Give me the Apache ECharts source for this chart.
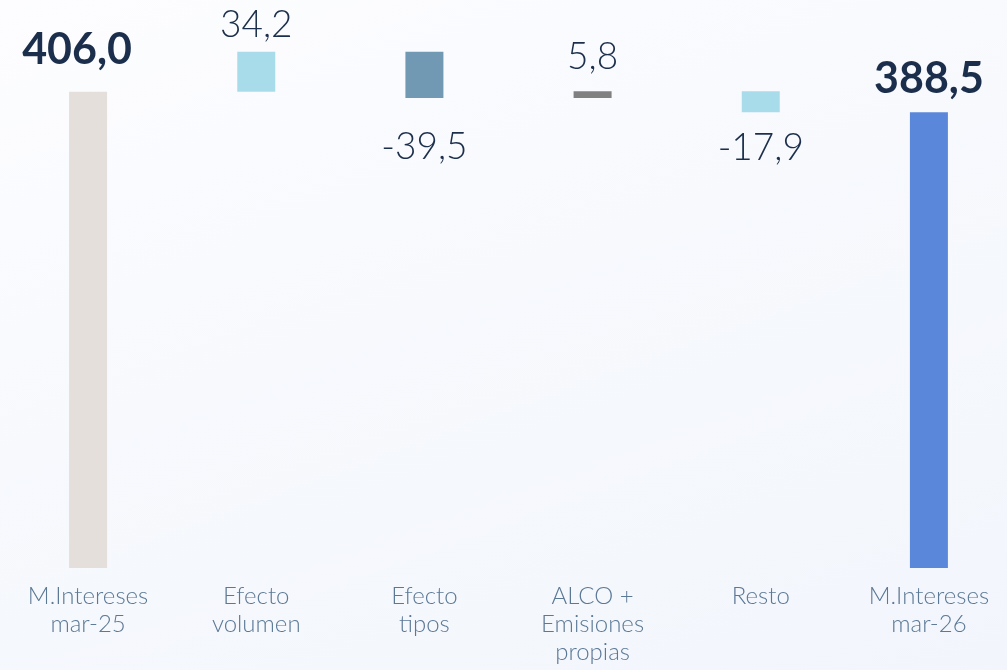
<!DOCTYPE html>
<html lang="es">
<head>
    <meta charset="UTF-8">
    <title>Margen de intereses</title>
    <script src="https://cdn.jsdelivr.net/npm/echarts@6/dist/echarts.min.js"></script>
    <style>
        html, body {
            margin: 0;
            padding: 0;
            width: 1007px;
            height: 670px;
            overflow: hidden;
            background: linear-gradient(160deg, #fdfdff 0%, #f7f9fd 45%, #f2f6fc 100%);
        }
        /* un poco más ancho que la ventana: el último grupo queda cortado como en el original */
        #chart {
            width: 1013px;
            height: 670px;
        }
    </style>
</head>
<body>
    <div id="chart"></div>
    <script>
        // datos
        var categories = ['M.Intereses\nmar-25', 'Efecto\nvolumen', 'Efecto\ntipos', 'ALCO +\nEmisiones\npropias', 'Resto', 'M.Intereses\nmar-26'];
        var values = [406.0, 34.2, -39.5, 5.8, -17.9, 388.5];
        var isTotal = [true, false, false, false, false, true];
        var barColors = ['#e5dfdc', '#a9dcea', '#7199b4', '#808080', '#a9dcea', '#5b87db'];

        // base invisible + altura visible (cascada)
        var baseData = [];
        var barData = [];
        var running = 0;
        var labelPos = [
            { position: 'top', distance: 20, offset: [-11, 0] },
            { position: 'top', distance: 8 },
            { position: 'bottom', distance: 31 },
            { position: 'top', distance: 16 },
            { position: 'bottom', distance: 17 },
            { position: 'top', distance: 12 }
        ];

        for (var i = 0; i < values.length; i++) {
            var v = values[i];
            var base, h;
            if (isTotal[i]) {
                base = 0;
                h = v;
                running = v;
            } else {
                base = Math.min(running, running + v);
                h = Math.abs(v);
                running = running + v;
            }
            baseData.push(base);
            barData.push({
                value: h,
                itemStyle: { color: barColors[i] },
                label: {
                    show: true,
                    position: labelPos[i].position,
                    distance: labelPos[i].distance,
                    offset: labelPos[i].offset || [0, 0],
                    formatter: v.toFixed(1).replace('.', ','),
                    fontFamily: 'Lato',
                    fontSize: isTotal[i] ? 43 : 37,
                    fontWeight: isTotal[i] ? 'bold' : 300,
                    color: '#1b2e4b'
                }
            });
        }

        var chart = echarts.init(document.getElementById('chart'));
        var option = {
            backgroundColor: 'transparent',
            animation: false,
            grid: {
                left: 4,
                right: 0,
                top: 5,
                bottom: 102,
                containLabel: false
            },
            xAxis: {
                type: 'category',
                data: categories,
                axisLine: { show: false },
                axisTick: { show: false },
                axisLabel: {
                    interval: 0,
                    margin: 14,
                    fontFamily: 'Lato',
                    fontSize: 24,
                    fontWeight: 300,
                    lineHeight: 28,
                    color: '#5b7895'
                }
            },
            yAxis: {
                type: 'value',
                min: 0,
                max: 480,
                show: false,
                splitLine: { show: false }
            },
            series: [{
                type: 'bar',
                stack: 'w',
                data: baseData,
                barWidth: 38,
                itemStyle: { color: 'transparent' },
                silent: true
            }, {
                type: 'bar',
                stack: 'w',
                data: barData,
                barWidth: 38
            }]
        };
        chart.setOption(option);
    </script>
</body>
</html>
